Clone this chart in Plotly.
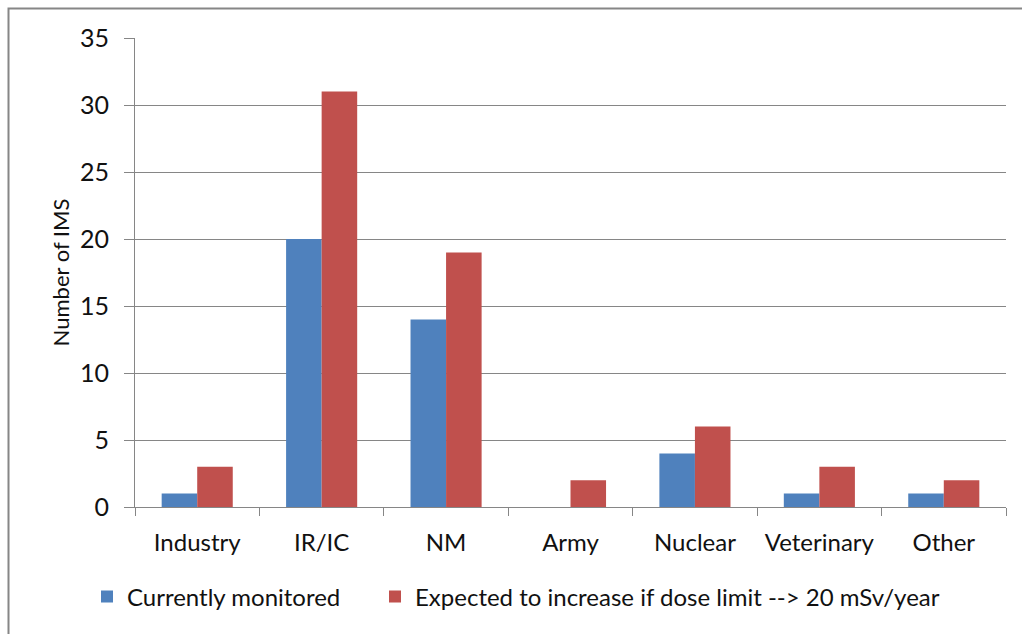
import plotly.graph_objects as go

categories = ["Industry", "IR/IC", "NM", "Army", "Nuclear", "Veterinary", "Other"]
currently_monitored = [1, 20, 14, 0, 4, 1, 1]
expected_increase = [3, 31, 19, 2, 6, 3, 2]
series_names = ["Currently monitored", "Expected to increase if dose limit --> 20 mSv/year"]
y_ticks = [0, 5, 10, 15, 20, 25, 30, 35]

FONT = "Lato, 'Open Sans', sans-serif"
AXIS = "#868686"

fig = go.Figure()
fig.add_trace(go.Bar(x=categories, y=currently_monitored, name=series_names[0],
                     marker=dict(color="#4F81BD", line=dict(width=0)), legend="legend"))
fig.add_trace(go.Bar(x=categories, y=expected_increase, name=series_names[1],
                     marker=dict(color="#C0504D", line=dict(width=0)), legend="legend2"))

legend_common = dict(orientation="h", xref="container", yref="container",
                     y=1 - 597 / 634, xanchor="left", yanchor="middle",
                     font=dict(size=24), itemclick=False, itemdoubleclick=False,
                     bgcolor="rgba(0,0,0,0)")

fig.update_layout(
    width=1022, height=634,
    margin=dict(l=135, r=16, t=38, b=127),
    paper_bgcolor="white", plot_bgcolor="white",
    barmode="group", bargap=0.4286, bargroupgap=0,
    font=dict(family=FONT, size=24, color="#111111"),
    showlegend=True,
    legend=dict(x=87 / 1022, **legend_common),
    legend2=dict(x=375 / 1022, **legend_common),
    xaxis=dict(type="category", showgrid=False, showline=True, linecolor=AXIS, linewidth=1,
               ticks="outside", tickson="boundaries", ticklen=8, tickcolor=AXIS,
               tickfont=dict(size=24), ticklabelstandoff=14),
    yaxis=dict(range=[0, 35], tickvals=y_ticks, showgrid=True, gridcolor=AXIS, gridwidth=1,
               zeroline=False, showline=True, linecolor=AXIS, linewidth=1,
               ticks="outside", ticklen=10, tickcolor=AXIS, tickfont=dict(size=25),
               ticklabelstandoff=10,
               title=dict(text="Number of IMS", font=dict(size=22), standoff=4)),
    shapes=[dict(type="rect", xref="paper", yref="paper",
                 x0=(8.5 - 135) / 871, x1=1.05, y0=-0.5, y1=(507 - 8.5) / 469,
                 line=dict(color=AXIS, width=2), layer="below")],
)

fig.write_html("out.html")
